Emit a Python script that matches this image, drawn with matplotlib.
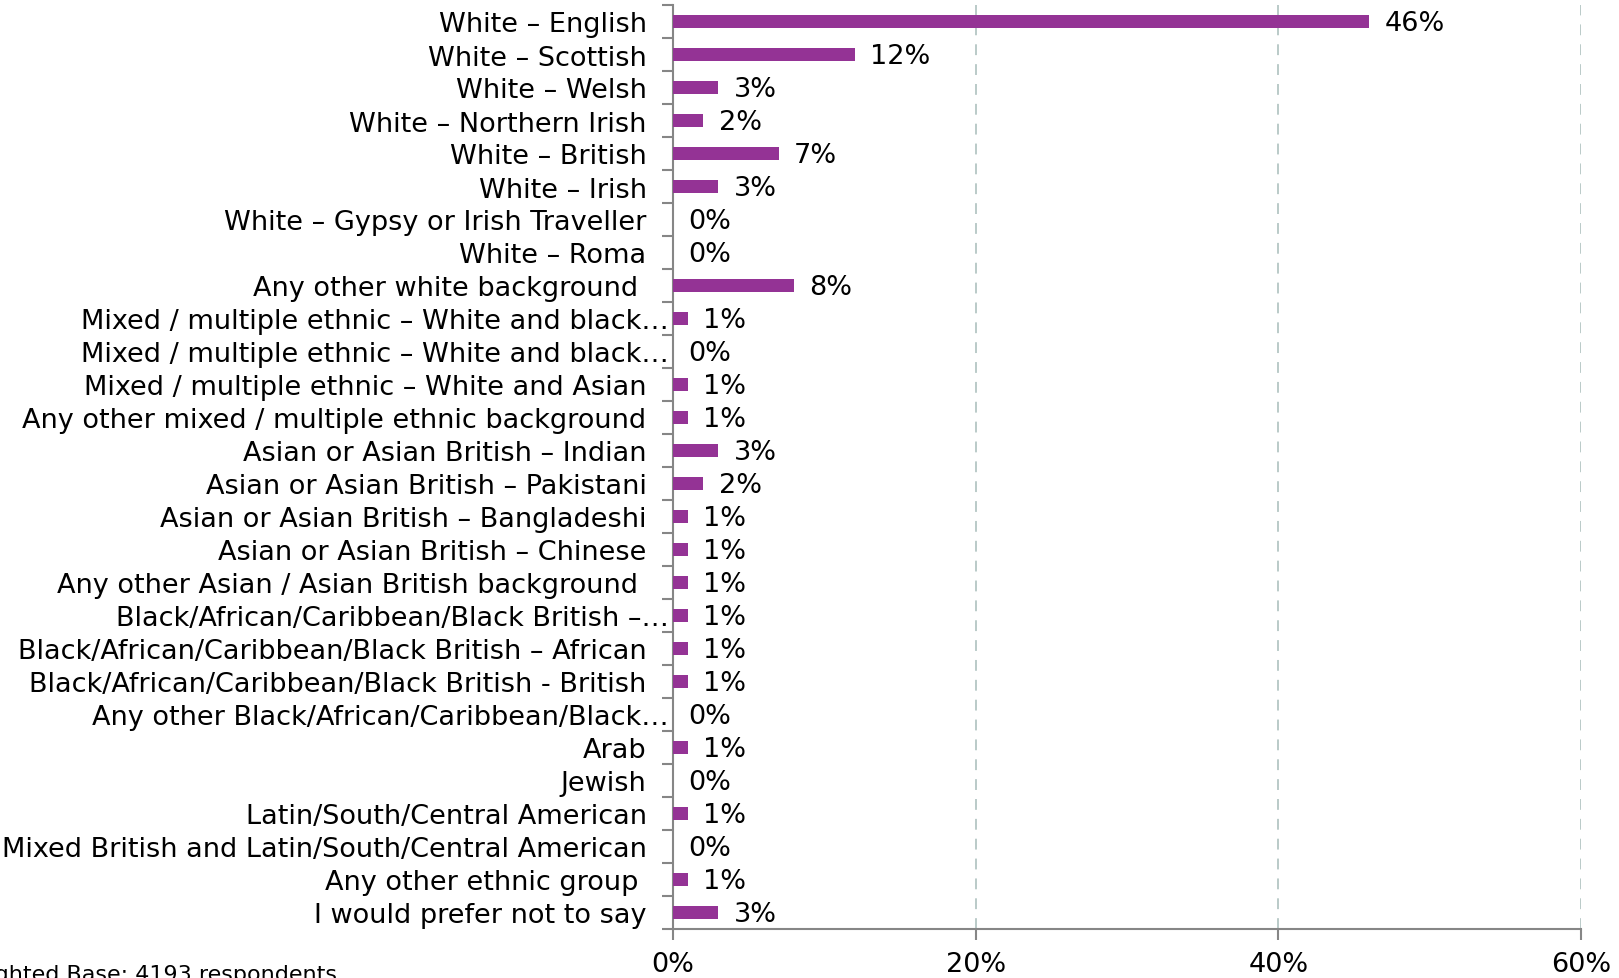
import matplotlib

matplotlib.use("Agg")
import matplotlib.pyplot as plt
from matplotlib.transforms import ScaledTranslation

categories = [
    "White – English",
    "White – Scottish",
    "White – Welsh",
    "White – Northern Irish",
    "White – British",
    "White – Irish",
    "White – Gypsy or Irish Traveller",
    "White – Roma",
    "Any other white background ",
    "Mixed / multiple ethnic – White and black…",
    "Mixed / multiple ethnic – White and black…",
    "Mixed / multiple ethnic – White and Asian",
    "Any other mixed / multiple ethnic background",
    "Asian or Asian British – Indian",
    "Asian or Asian British – Pakistani",
    "Asian or Asian British – Bangladeshi",
    "Asian or Asian British – Chinese",
    "Any other Asian / Asian British background ",
    "Black/African/Caribbean/Black British –…",
    "Black/African/Caribbean/Black British – African",
    "Black/African/Caribbean/Black British - British",
    "Any other Black/African/Caribbean/Black…",
    "Arab",
    "Jewish",
    "Latin/South/Central American",
    "Mixed British and Latin/South/Central American",
    "Any other ethnic group ",
    "I would prefer not to say",
]
shares = [46, 12, 3, 2, 7, 3, 0, 0, 8, 1, 0, 1, 1, 3, 2, 1, 1, 1, 1, 1, 1, 0, 1, 0, 1, 0, 1, 3]
x_ticks = [0, 20, 40, 60]
base_note = "Weighted Base: 4193 respondents"

BAR_COLOR = "#943395"
AXIS_COLOR = "#868686"
GRID_COLOR = "#b4c6c4"
FONT_SIZE = 19.5

plt.rcParams["font.family"] = ["DejaVu Sans"]

fig = plt.figure(figsize=(16.19, 9.79), dpi=100)
ax = fig.add_axes([673 / 1619, 1 - 930 / 979, (1581 - 673) / 1619, (930 - 6) / 979])

n = len(categories)
positions = list(range(n))
ax.barh(positions, shares, height=0.4, color=BAR_COLOR, zorder=3)

for pos, value in zip(positions, shares):
    ax.annotate(
        f"{value}%",
        xy=(value, pos),
        xytext=(11, -1),
        textcoords="offset points",
        va="center",
        ha="left",
        fontsize=FONT_SIZE,
        color="black",
    )

ax.set_ylim(n - 0.5, -0.5)
ax.set_xlim(0, 60)

# category boundaries carry the tick marks, labels sit at the centres
ax.set_yticks([p - 0.5 for p in range(n + 1)])
ax.set_yticklabels([])
ax.set_yticks(positions, minor=True)
ax.set_yticklabels(categories, minor=True, fontsize=FONT_SIZE)
ax.tick_params(axis="y", which="major", length=8, width=1.5, color=AXIS_COLOR, direction="out")
ax.tick_params(axis="y", which="minor", length=0, pad=19)

for label in ax.get_yticklabels(minor=True):
    if label.get_text().endswith("…"):
        label.set_transform(label.get_transform() + ScaledTranslation(16 / 72, 0, fig.dpi_scale_trans))

ax.set_xticks(x_ticks)
ax.set_xticklabels([f"{t}%" for t in x_ticks], fontsize=FONT_SIZE)
ax.tick_params(axis="x", length=8, width=1.5, color=AXIS_COLOR, direction="out", pad=8)

ax.grid(axis="x", color=GRID_COLOR, linestyle=(0, (6, 5)), linewidth=1.3, zorder=0)
for side in ("top", "right"):
    ax.spines[side].set_visible(False)
for side in ("left", "bottom"):
    ax.spines[side].set_color(AXIS_COLOR)
    ax.spines[side].set_linewidth(1.5)

fig.text(337 / 1619, 0.004, base_note, ha="right", va="center", fontsize=FONT_SIZE * 0.82)

fig.savefig("out.png", dpi=100)
